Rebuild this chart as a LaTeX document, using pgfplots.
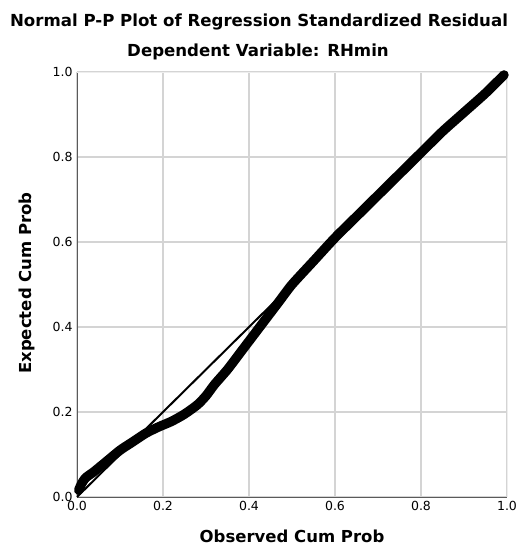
\documentclass[border=0pt]{standalone}
\usepackage{pgfplots}
\pgfplotsset{compat=1.18}
\usepackage{fontspec}
\setmainfont{DejaVu Sans}
\definecolor{gridgray}{RGB}{212,212,212}
\definecolor{axgray}{RGB}{90,90,90}
\definecolor{framegray}{RGB}{238,238,238}
\begin{document}
\begin{tikzpicture}[x=1pt,y=1pt]
\path[use as bounding box] (-77,-54) rectangle (441,497);
\begin{axis}[
  at={(0,0)}, anchor=south west,
  scale only axis, width=430pt, height=425pt,
  xmin=0, xmax=1, ymin=0, ymax=1,
  xtick={0,0.2,0.4,0.6,0.8,1.0}, ytick={0,0.2,0.4,0.6,0.8,1.0},
  xticklabels={0.0,0.2,0.4,0.6,0.8,1.0}, yticklabels={0.0,0.2,0.4,0.6,0.8,1.0},
  axis x line*=bottom, axis y line*=left,
  axis line style={axgray, line width=0.9pt, -},
  major tick length=0pt,
  grid=major, grid style={gridgray, line width=1.1pt},
  tick label style={font=\fontsize{12.5}{13}\selectfont, text=black},
  xticklabel style={yshift=-1pt},
  yticklabel style={xshift=-1pt},
  clip=false,
]
\draw[framegray, line width=0.8pt] (rel axis cs:0,1) -- (rel axis cs:1,1) -- (rel axis cs:1,0);
\addplot[black, line width=2pt] coordinates {(0,0) (1,1)};
\addplot[black, line width=9.5pt, line cap=round, line join=round, smooth, tension=0.4] coordinates {
(0.004,0.016) (0.01,0.03) (0.02,0.045) (0.04,0.06) (0.07,0.085) (0.1,0.11)
(0.13,0.13) (0.16,0.15) (0.19,0.165) (0.22,0.178) (0.25,0.195) (0.28,0.217)
(0.30,0.238) (0.32,0.265) (0.35,0.30) (0.38,0.34) (0.41,0.38) (0.44,0.42)
(0.47,0.46) (0.50,0.50) (0.55,0.555) (0.60,0.61) (0.65,0.66) (0.70,0.71)
(0.75,0.76) (0.80,0.81) (0.85,0.86) (0.90,0.905) (0.95,0.95) (0.993,0.993)
};
\end{axis}
\node[font=\bfseries\fontsize{16.6}{18}\selectfont] at (182,475) {Normal P-P Plot of Regression Standardized Residual};
\node[font=\bfseries\fontsize{16.6}{18}\selectfont] at (181,445) {Dependent Variable: RHmin};
\node[font=\bfseries\fontsize{16.5}{18}\selectfont] at (215,-39) {Observed Cum Prob};
\node[font=\bfseries\fontsize{16.5}{18}\selectfont, rotate=90] at (-50,214) {Expected Cum Prob};
\end{tikzpicture}
\end{document}
